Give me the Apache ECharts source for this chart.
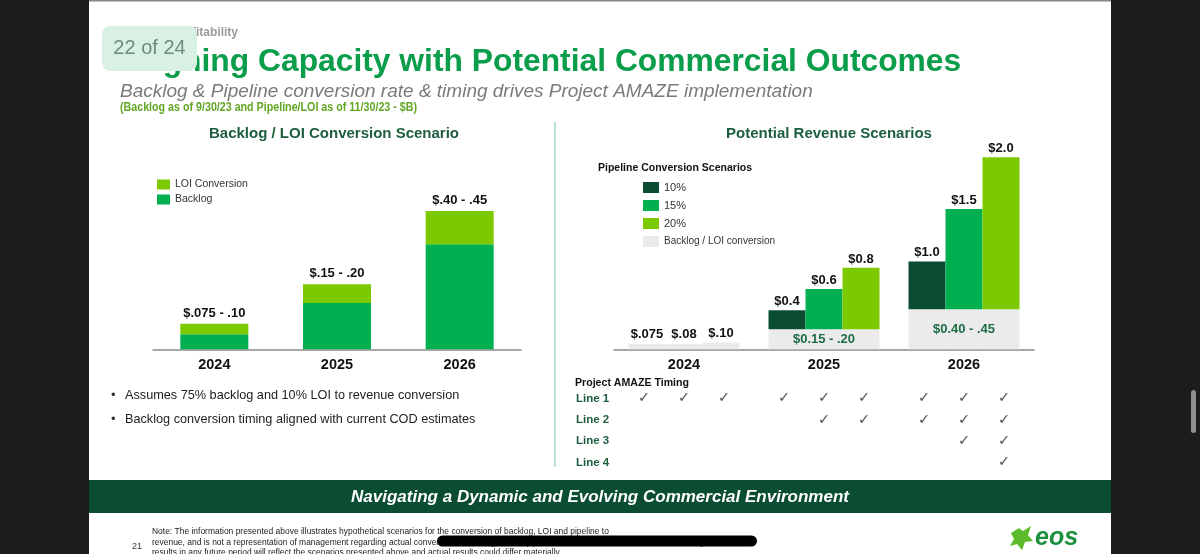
<!DOCTYPE html>
<html><head><meta charset="utf-8">
<script src="https://cdn.jsdelivr.net/npm/echarts@6/dist/echarts.min.js"></script>
<style>html,body{margin:0;padding:0;background:#fff;overflow:hidden}#c{width:1200px;height:554px}</style>
</head><body><div id="c"></div>
<script>
// ---------- DATA ----------
const years = ['2024', '2025', '2026'];

// Left chart: Backlog / LOI Conversion Scenario ($B)
const backlogValues = [0.049, 0.151, 0.342];
const loiValues = [0.034, 0.061, 0.108];
const leftTotalLabels = ['$.075 - .10', '$.15 - .20', '$.40 - .45'];

// Right chart: Potential Revenue Scenarios ($B)
const base10Values = [0.056, 0.21, 0.42];
const base15Values = [0.056, 0.21, 0.42];
const base20Values = [0.07, 0.21, 0.42];
const base2024Labels = ['$.075', '$.08', '$.10'];
const baseRangeLabels = ['', '$0.15 - .20', '$0.40 - .45'];
const pipe10Values = ['-', 0.20, 0.50];
const pipe15Values = ['-', 0.42, 1.05];
const pipe20Values = ['-', 0.645, 1.59];
const pipe10Labels = ['', '$0.4', '$1.0'];
const pipe15Labels = ['', '$0.6', '$1.5'];
const pipe20Labels = ['', '$0.8', '$2.0'];

// Project AMAZE timing: year-major, 3 scenario columns per year (1 = check)
const timingLines = ['Line 1', 'Line 2', 'Line 3', 'Line 4'];
const line1Checks = [1, 1, 1, 1, 1, 1, 1, 1, 1];
const line2Checks = [0, 0, 0, 0, 1, 1, 1, 1, 1];
const line3Checks = [0, 0, 0, 0, 0, 0, 0, 1, 1];
const line4Checks = [0, 0, 0, 0, 0, 0, 0, 0, 1];

// ---------- CHART ----------
const FONT = 'Liberation Sans, Arial, sans-serif';
const C10 = '#0b4d33', C15 = '#00b050', C20 = '#7dc900', CGRAY = '#ebebeb';
const allChecks = [line1Checks, line2Checks, line3Checks, line4Checks];

function checkData(col) {
  const out = [];
  allChecks.forEach((arr, li) => {
    years.forEach((y, yi) => { if (arr[yi * 3 + col]) out.push([y, timingLines[li]]); });
  });
  return out;
}
const valLabel = {fontFamily: FONT, fontWeight: 'bold', fontSize: 13, color: '#111'};

function baseSeries(values, col) {
  return {
    name: 'Backlog / LOI conversion', type: 'bar', xAxisIndex: 1, yAxisIndex: 1,
    stack: 's' + col, barWidth: 37, barGap: '0%',
    itemStyle: {color: CGRAY},
    data: values.map((v, i) => {
      let label = {show: false};
      if (i === 0) label = Object.assign({show: true, position: 'top', distance: 3, formatter: base2024Labels[col]}, valLabel);
      else if (col === 1) label = Object.assign({show: true, position: 'inside', formatter: baseRangeLabels[i]}, valLabel, {color: '#1d6b45'});
      return {value: v, label};
    })
  };
}
function pipeSeries(name, values, labels, col, color) {
  return {
    name, type: 'bar', xAxisIndex: 1, yAxisIndex: 1, stack: 's' + col, barWidth: 37, barGap: '0%',
    itemStyle: {color},
    label: Object.assign({show: true, position: 'top', distance: 2, formatter: p => labels[p.dataIndex]}, valLabel),
    data: values
  };
}
function checkSeries(col, dx) {
  return {
    name: 'chk' + col, type: 'scatter', xAxisIndex: 2, yAxisIndex: 2,
    symbol: 'circle', symbolSize: 1, itemStyle: {color: 'rgba(0,0,0,0)'},
    label: {show: true, position: 'inside', offset: [dx, 0], formatter: '\u2713',
      fontFamily: 'DejaVu Sans', fontSize: 14.5, color: '#222'},
    data: checkData(col)
  };
}
const yearAxisLabel = {fontFamily: FONT, fontWeight: 'bold', fontSize: 14.5, color: '#111', margin: 8};
const axisLine = {show: true, lineStyle: {color: '#8c8c8c', width: 1.5}};

function T(x, y, text, size, fill, opts) {
  return Object.assign({type: 'text', x, y, style: Object.assign({text, fontFamily: FONT, fontSize: size, fill,
    textAlign: 'left', textVerticalAlign: 'middle'}, (opts && opts.style) || {})}, opts && opts.el || {});
}

const graphics = [
  {type: 'rect', shape: {x: 0, y: 0, width: 89, height: 554}, style: {fill: '#1c1c1e'}},
  {type: 'rect', shape: {x: 1111, y: 0, width: 89, height: 554}, style: {fill: '#1c1c1e'}},
  {type: 'rect', shape: {x: 89, y: 0, width: 1022, height: 1.5}, style: {fill: '#8a8a8a'}},
  {type: 'rect', shape: {x: 1191, y: 390, width: 5, height: 43, r: 2.5}, style: {fill: '#8e8e8e'}},
  T(238, 33, 'Path to Profitability', 12, '#9a9a9a', {style: {fontWeight: 'bold', textAlign: 'right'}}),
  T(122, 62, 'Aligning Capacity with Potential Commercial Outcomes', 31.8, '#0a9d4a', {style: {fontWeight: 'bold'}}),
  T(120, 92, 'Backlog & Pipeline conversion rate & timing drives Project AMAZE implementation', 19, '#7a7a7a', {style: {fontStyle: 'italic'}}),
  T(120, 108, '(Backlog as of 9/30/23 and Pipeline/LOI as of 11/30/23 - $B)', 12.5, '#62a624', {style: {fontWeight: 'bold'}, el: {scaleX: 0.855}}),
  {type: 'rect', shape: {x: 102, y: 26, width: 95, height: 45, r: 8}, style: {fill: '#d9f1e3'}},
  T(149.5, 48.5, '22 of 24', 20, '#6c8b78', {style: {textAlign: 'center'}}),
  {type: 'line', shape: {x1: 555, y1: 122, x2: 555, y2: 467}, style: {stroke: '#a6d9c9', lineWidth: 1.5}},
  T(334, 134, 'Backlog / LOI Conversion Scenario', 15, '#1d5e3d', {style: {fontWeight: 'bold', textAlign: 'center'}}),
  T(829, 134, 'Potential Revenue Scenarios', 15, '#1d5e3d', {style: {fontWeight: 'bold', textAlign: 'center'}}),
  T(598, 168, 'Pipeline Conversion Scenarios', 10.5, '#111', {style: {fontWeight: 'bold'}}),
  T(111, 395, '\u2022', 13, '#333'),
  T(125, 395, 'Assumes 75% backlog and 10% LOI to revenue conversion', 12.7, '#222'),
  T(111, 419, '\u2022', 13, '#333'),
  T(125, 419, 'Backlog conversion timing aligned with current COD estimates', 12.7, '#222'),
  T(575, 383, 'Project AMAZE Timing', 10.6, '#111', {style: {fontWeight: 'bold'}}),
  {type: 'rect', shape: {x: 89, y: 480, width: 1022, height: 33}, style: {fill: '#0b4d33'}},
  T(600, 497, 'Navigating a Dynamic and Evolving Commercial Environment', 17, '#ffffff', {style: {fontWeight: 'bold', fontStyle: 'italic', textAlign: 'center'}}),
  T(152, 531, 'Note: The information presented above illustrates hypothetical scenarios for the conversion of backlog, LOI and pipeline to', 9.5, '#222', {el: {scaleX: 0.89}}),
  T(152, 542, 'revenue, and is not a representation of management regarding actual conversion of backlog, LOI or pipeline to revenue, and no assurance can be given that', 9.5, '#222', {el: {scaleX: 0.89}}),
  T(152, 552, 'results in any future period will reflect the scenarios presented above and actual results could differ materially.', 9.5, '#222', {el: {scaleX: 0.89}}),
  {type: 'rect', shape: {x: 437, y: 535.5, width: 320, height: 11, r: 5.5}, style: {fill: '#000'}},
  T(132, 547, '21', 9, '#333'),
  {type: 'polygon', shape: {points: [[1011,533],[1019,528],[1023,531],[1031,526],[1028,535],[1033,541],[1025,542],[1022,550],[1017,544],[1010,546],[1014,539]]}, style: {fill: '#5dbb2b'}},
  T(1035, 538, 'eos', 25, '#1a8f3c', {style: {fontWeight: 'bold', fontStyle: 'italic'}}),
];

const option = {
  animation: false,
  backgroundColor: '#ffffff',
  textStyle: {fontFamily: FONT},
  graphic: {elements: graphics},
  legend: [
    {data: ['LOI Conversion', 'Backlog'], orient: 'vertical', left: 157, top: 179, padding: 0, itemWidth: 13, itemHeight: 10,
      itemGap: 4, selectedMode: false, icon: 'rect', textStyle: {fontSize: 10.5, color: '#333', fontFamily: FONT}},
    {data: ['10%', '15%', '20%', {name: 'Backlog / LOI conversion', textStyle: {fontSize: 10}}], orient: 'vertical', left: 643, top: 182, padding: 0,
      itemWidth: 16, itemHeight: 11, itemGap: 7, selectedMode: false, icon: 'rect',
      textStyle: {fontSize: 11, color: '#333', fontFamily: FONT}}
  ],
  grid: [
    {left: 153, width: 368, top: 165, height: 184.3},
    {left: 614, width: 420, top: 110.5, height: 238.8},
    {left: 614, width: 420, top: 388, height: 85}
  ],
  xAxis: [
    {gridIndex: 0, type: 'category', data: years, axisLine, axisTick: {show: false}, axisLabel: yearAxisLabel},
    {gridIndex: 1, type: 'category', data: years, axisLine, axisTick: {show: false}, axisLabel: yearAxisLabel},
    {gridIndex: 2, type: 'category', data: years, show: false}
  ],
  yAxis: [
    {gridIndex: 0, type: 'value', min: 0, max: 0.6, show: false},
    {gridIndex: 1, type: 'value', min: 0, max: 2.5, show: false},
    {gridIndex: 2, type: 'category', data: timingLines, inverse: true,
      axisLine: {show: false}, axisTick: {show: false}, splitLine: {show: false},
      axisLabel: {align: 'left', margin: 38, fontFamily: FONT, fontWeight: 'bold', fontSize: 11.5, color: '#1d5e3d'}}
  ],
  series: [
    {name: 'Backlog', type: 'bar', xAxisIndex: 0, yAxisIndex: 0, stack: 'left', barWidth: 68,
      itemStyle: {color: C15}, data: backlogValues},
    {name: 'LOI Conversion', type: 'bar', xAxisIndex: 0, yAxisIndex: 0, stack: 'left', barWidth: 68,
      itemStyle: {color: C20}, data: loiValues,
      label: Object.assign({show: true, position: 'top', distance: 4, formatter: p => leftTotalLabels[p.dataIndex]}, valLabel)},
    baseSeries(base10Values, 0),
    baseSeries(base15Values, 1),
    baseSeries(base20Values, 2),
    pipeSeries('10%', pipe10Values, pipe10Labels, 0, C10),
    pipeSeries('15%', pipe15Values, pipe15Labels, 1, C15),
    pipeSeries('20%', pipe20Values, pipe20Labels, 2, C20),
    checkSeries(0, -40),
    checkSeries(1, 0),
    checkSeries(2, 40)
  ]
};
const chart = echarts.init(document.getElementById('c'), null, {renderer: 'canvas'});
chart.setOption(option);
</script>
</body></html>
